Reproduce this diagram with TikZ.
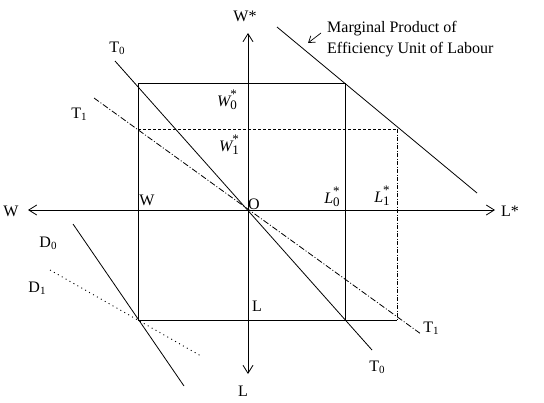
\documentclass[tikz,border=0pt]{standalone}
\usepackage{fontspec}
\setmainfont{Liberation Serif}
\usetikzlibrary{arrows.meta}
\newcommand\mysub[1]{\raisebox{-2pt}{\fontsize{11}{11}\selectfont #1}}
\newcommand\starsub[2]{{\itshape #1}\makebox[0pt][l]{\raisebox{8pt}{\fontsize{13}{13}\selectfont *}}\raisebox{-3pt}{\fontsize{13}{13}\selectfont #2}}
\begin{document}
\begin{tikzpicture}[x=1pt,y=-1pt,
  lbl/.style={inner sep=0pt,font=\fontsize{16}{19}\selectfont},
  thin line/.style={line width=0.8pt},
  axis/.style={line width=0.9pt,-{Straight Barb[length=8pt,width=10pt,line width=0.8pt]}},
  dashdotline/.style={line width=0.8pt,dash pattern=on 6pt off 2pt on 1pt off 2pt},
  shortdash/.style={line width=0.8pt,dash pattern=on 3pt off 2pt},
  finedashdot/.style={line width=0.8pt,dash pattern=on 4pt off 1.5pt on 1pt off 1.5pt},
  dotline/.style={line width=0.9pt,dash pattern=on 1pt off 3.5pt}]
\useasboundingbox (0,0) rectangle (544,402);
% points
\coordinate (O) at (248,210);
\coordinate (Wl) at (28,210);
\coordinate (Ls) at (495,210);
\coordinate (Wt) at (248,33);
\coordinate (Lb) at (248,374);
\coordinate (A) at (138,83);
\coordinate (B) at (345,83);
\coordinate (C) at (345,320);
\coordinate (D) at (138,320);
\coordinate (E) at (138,129);
\coordinate (F) at (397,129);
\coordinate (G) at (397,320);
\coordinate (t0a) at (115,61);
\coordinate (t0b) at (372,350);
\coordinate (t1a) at (94,98);
\coordinate (t1b) at (421,334);
\coordinate (mpa) at (277,27);
\coordinate (mpb) at (477,193);
\coordinate (d0a) at (73,224);
\coordinate (d0b) at (184,386);
\coordinate (d1a) at (50,270);
\coordinate (d1b) at (201,356);
\coordinate (ara) at (321,33);
\coordinate (arb) at (308,43);
% axes
\draw[axis] (O) -- (Wl);
\draw[axis] (O) -- (Ls);
\draw[axis] (O) -- (Wt);
\draw[axis] (O) -- (Lb);
% rectangle
\draw[thin line] (A) -- (B) -- (C);
\draw[thin line] (A) -- (D) -- (G);
\draw[shortdash] (E) -- (F);
\draw[finedashdot] (F) -- (G);
% lines
\draw[thin line] (t0a) -- (t0b);
\draw[dashdotline] (t1a) -- (t1b);
\draw[thin line] (mpa) -- (mpb);
\draw[thin line] (d0a) -- (d0b);
\draw[dotline] (d1a) -- (d1b);
\draw[line width=0.7pt,-{Straight Barb[length=6pt,width=8pt,line width=0.7pt]}] (ara) -- (arb);
% labels
\node[lbl] (lWs) at (245,16) {W*};
\node[lbl] (lT0a) at (117,48) {T\mysub{0}};
\node[lbl] (lT1a) at (79,114) {T\mysub{1}};
\node[lbl] (lW0) at (227,100) {\starsub{W}{0}};
\node[lbl] (lW1) at (229,145) {\starsub{W}{1}};
\node[lbl] (lWr) at (147,200) {W};
\node[lbl] (lO) at (254,204) {O};
\node[lbl] (lL0) at (332,197) {\starsub{L}{0}};
\node[lbl] (lL1) at (382,196) {\starsub{L}{1}};
\node[lbl] (lWl) at (11,211) {W};
\node[lbl] (lLs) at (510,211) {L*};
\node[lbl] (lD0) at (48,243) {D\mysub{0}};
\node[lbl] (lD1) at (37,288) {D\mysub{1}};
\node[lbl] (lLm) at (257,306) {L};
\node[lbl] (lLb) at (243,391) {L};
\node[lbl] (lT1b) at (431,328) {T\mysub{1}};
\node[lbl] (lT0b) at (377,367) {T\mysub{0}};
\node[lbl,anchor=base west] (mp1) at (327,32) {Marginal Product of};
\node[lbl,anchor=base west] (mp2) at (327,53) {Efficiency Unit of Labour};
\end{tikzpicture}
\end{document}
